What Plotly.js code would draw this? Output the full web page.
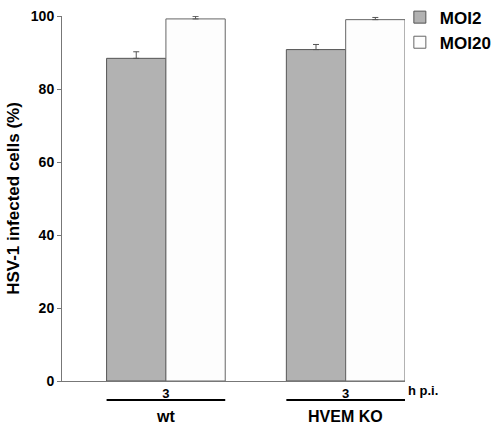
<!DOCTYPE html>
<html><head><meta charset="utf-8">
<script src="https://cdn.plot.ly/plotly-3.0.1.min.js"></script>
<style>html,body{margin:0;padding:0;background:#fff}#chart{width:495px;height:426px}</style>
</head><body><div id="chart"></div>
<script>
const groups = ["wt", "HVEM KO"];
const timeLabels = ["3", "3"];
const seriesNames = ["MOI2", "MOI20"];
const moi2 = [88.4, 90.8];
const moi2Err = [1.8, 1.4];
const moi20 = [99.2, 99.0];
const moi20Err = [0.7, 0.6];
const yTicks = [0, 20, 40, 60, 80, 100];

const xs = groups.map((g, i) => i);
const font = {family: "Liberation Sans, Arial, sans-serif", color: "#000", weight: "bold"};
const groupHalf = 0.33;

const traces = [
  {type: "bar", name: seriesNames[0], x: xs, y: moi2,
   marker: {color: "#b2b2b2", line: {color: "#555", width: 1}},
   error_y: {type: "data", array: moi2Err, arrayminus: moi2Err.map(() => 0), symmetric: false,
             color: "#555", thickness: 1, width: 3}},
  {type: "bar", name: seriesNames[1], x: xs, y: moi20,
   marker: {color: "#fdfdfd", line: {color: "#666", width: 1}},
   error_y: {type: "data", array: moi20Err, arrayminus: moi20Err.map(() => 0), symmetric: false,
             color: "#555", thickness: 1, width: 3}}
];

const annotations = groups.map((g, i) => ({
  x: i, y: 0, xref: "x", yref: "paper", yshift: -35, text: g,
  showarrow: false, font: Object.assign({}, font, {size: 16}), yanchor: "middle"
}));
annotations.push({x: 1 + groupHalf, y: 0, xref: "x", yref: "paper", xanchor: "left", xshift: 1, yshift: -9,
  text: "h p.i.", showarrow: false, font: Object.assign({}, font, {size: 13}), yanchor: "middle"});

const shapes = groups.map((g, i) => ({
  type: "line", xref: "x", yref: "paper", x0: i - groupHalf, x1: i + groupHalf,
  y0: -0.052, y1: -0.052, line: {color: "#000", width: 2}
}));

const layout = {
  width: 495, height: 426,
  margin: {l: 62, r: 90, t: 16, b: 45, autoexpand: false},
  paper_bgcolor: "#fff", plot_bgcolor: "#fff",
  barmode: "group", bargap: 0.34, bargroupgap: 0,
  showlegend: true,
  legend: {x: 0.985, y: 1.045, xanchor: "left", yanchor: "top", bgcolor: "rgba(0,0,0,0)",
           font: Object.assign({}, font, {size: 17}), tracegroupgap: 0, itemwidth: 30},
  xaxis: {range: [-0.578, 1.33], tickvals: xs, ticktext: timeLabels,
          showline: true, linecolor: "#777", linewidth: 1, ticks: "", showgrid: false, zeroline: false,
          tickfont: Object.assign({}, font, {size: 13}), ticklen: 0},
  yaxis: {range: [0, 100], tickvals: yTicks, ticks: "outside", ticklen: 4, tickcolor: "#777",
          showline: true, linecolor: "#777", linewidth: 1, showgrid: false, zeroline: false,
          tickfont: Object.assign({}, font, {size: 14}),
          title: {text: "HSV-1 infected cells (%)", font: Object.assign({}, font, {size: 17}), standoff: 6}},
  annotations: annotations, shapes: shapes
};
Plotly.newPlot("chart", traces, layout, {displayModeBar: false, staticPlot: true});
</script></body></html>
